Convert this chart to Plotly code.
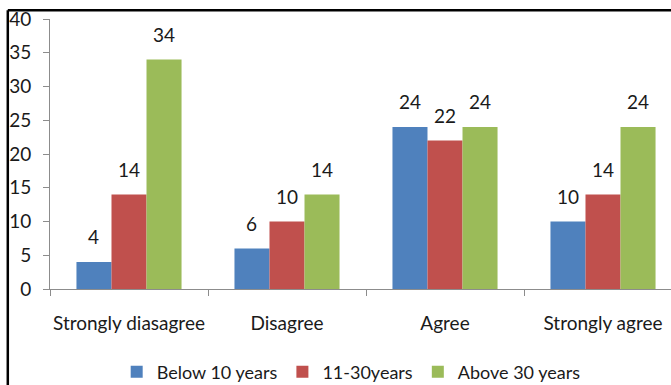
import plotly.graph_objects as go

# Survey responses by years of experience
categories = ["Strongly diasagree", "Disagree", "Agree", "Strongly agree"]
series_names = ["Below 10 years", "11-30years", "Above 30 years"]
below_10 = [4, 6, 24, 10]
years_11_30 = [14, 10, 22, 14]
above_30 = [34, 14, 24, 24]
y_ticks = [0, 5, 10, 15, 20, 25, 30, 35, 40]

colors = ["#4F81BD", "#C0504D", "#9BBB59"]
font_family = "Lato, Calibri, sans-serif"
text_color = "#1a1a1a"
axis_color = "#8c8c8c"

W, H = 671, 385
margin = dict(l=50, r=0, t=19, b=96, autoexpand=False)
plot_w = W - margin["l"] - margin["r"]
plot_h = H - margin["t"] - margin["b"]
cat_px = 158.0
x_range = [-0.5, -0.5 + plot_w / cat_px]
bargap = 0.335
bar_px = cat_px * (1 - bargap) / 3

fig = go.Figure()
all_series = [below_10, years_11_30, above_30]
for name, vals, col in zip(series_names, all_series, colors):
    fig.add_trace(go.Bar(
        x=categories, y=vals, name=name,
        marker=dict(color=col, line=dict(width=0)),
    ))

# value labels sitting above each bar
for k, vals in enumerate(all_series):
    for cat, v in zip(categories, vals):
        fig.add_annotation(
            x=cat, y=v, xref="x", yref="y",
            text=str(v), showarrow=False,
            xshift=(k - 1) * bar_px, yshift=12,
            yanchor="bottom",
            font=dict(family=font_family, size=19, color=text_color),
        )

# outer chart frame (top and left edges)
fx = (7.8 - margin["l"]) / plot_w
fy = 1 + (margin["t"] - 10.2) / plot_h
fig.add_shape(type="line", xref="paper", yref="paper", x0=fx, x1=1.2, y0=fy, y1=fy,
              line=dict(color="#000000", width=2.5))
fig.add_shape(type="line", xref="paper", yref="paper", x0=fx, x1=fx, y0=fy, y1=-0.5,
              line=dict(color="#000000", width=2.5))

legend_y = (289 - 372) / plot_h

fig.update_layout(
    width=W, height=H, margin=margin,
    paper_bgcolor="white", plot_bgcolor="white",
    barmode="group", bargap=bargap, bargroupgap=0,
    font=dict(family=font_family, size=19, color=text_color),
    showlegend=True,
    legend=dict(orientation="h", x=0.485, xanchor="center", y=legend_y, yanchor="middle",
                font=dict(family=font_family, size=18, color=text_color),
                itemwidth=30, traceorder="normal"),
    xaxis=dict(range=x_range, showline=True, linecolor=axis_color, linewidth=1,
               ticks="outside", tickson="boundaries", ticklen=6, tickcolor=axis_color,
               showgrid=False, ticklabelstandoff=17, tickangle=0, automargin=False,
               tickfont=dict(family=font_family, size=19, color=text_color)),
    yaxis=dict(range=[0, 40], tickvals=y_ticks, showline=True, linecolor=axis_color,
               linewidth=1, ticks="outside", ticklen=6, tickcolor=axis_color,
               showgrid=False, zeroline=False, ticklabelstandoff=8, automargin=False,
               tickfont=dict(family=font_family, size=19, color=text_color)),
)

fig.write_html("out.html")
